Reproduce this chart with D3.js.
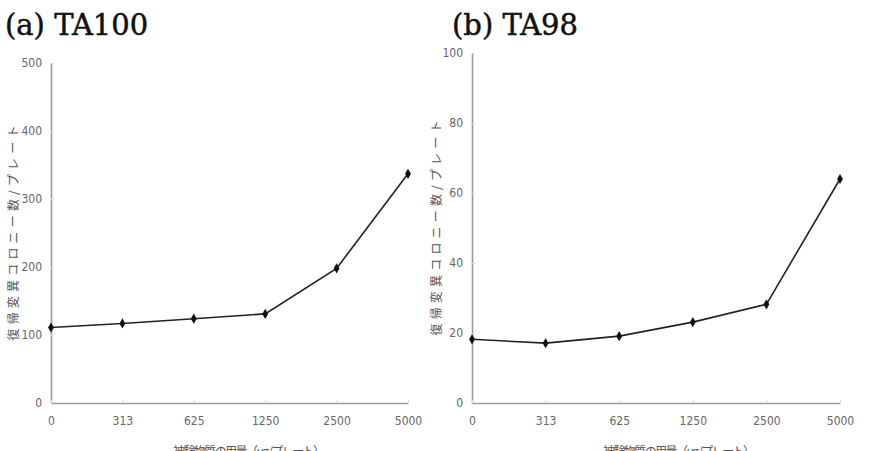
<!DOCTYPE html>
<html lang="ja">
<head>
<meta charset="UTF-8">
<title>TA100 / TA98</title>
<script src="https://cdn.jsdelivr.net/npm/d3@7"></script>
<style>
  body { margin: 0; background: #fff; }
  .tick text { font-family: "Liberation Sans Narrow", "DejaVu Sans Condensed", sans-serif; font-size: 12px; fill: #666; }
  .title { font-family: "DejaVu Serif", "Liberation Serif", serif; font-size: 29px; fill: #111; stroke: #111; stroke-width: 0.5px; }
  .ylab, .xlab { font-family: "Noto Sans CJK JP", sans-serif; font-size: 12px; fill: #555; }
</style>
</head>
<body>
<div id="chart"></div>
<script>
const doses = ["0", "313", "625", "1250", "2500", "5000"];
const ta100 = [111, 117, 124, 131, 198, 337];
const ta98 = [18.2, 17.1, 19.1, 23.1, 28.2, 64];
const ta100Ticks = [0, 100, 200, 300, 400, 500];
const ta98Ticks = [0, 20, 40, 60, 80, 100];

const w = 893, h = 451;
const svg = d3.select("#chart").append("svg")
  .attr("width", w)
  .attr("height", h);

const panels = [
  { title: "(a) TA100", values: ta100, ticks: ta100Ticks, x0: 51, x1: 408, top: 63, titleX: 5, ylabX: 14, ylabY: 233, xlabX: 249 },
  { title: "(b) TA98", values: ta98, ticks: ta98Ticks, x0: 472, x1: 840, top: 53, titleX: 452, ylabX: 437, ylabY: 228, xlabX: 679 }
];
const bottom = 403;

panels.forEach(p => {
  const x = d3.scalePoint().domain(doses).range([p.x0, p.x1]);
  const y = d3.scaleLinear().domain([0, d3.max(p.ticks)]).range([bottom, p.top]);

  const yAxis = svg.append("g")
    .attr("transform", `translate(${p.x0},0)`)
    .call(d3.axisLeft(y).tickValues(p.ticks).tickSizeInner(-3).tickSizeOuter(0).tickPadding(9));

  const xAxis = svg.append("g")
    .attr("transform", `translate(0,${bottom})`)
    .call(d3.axisBottom(x).tickSizeInner(-3).tickSizeOuter(0).tickPadding(13));

  [xAxis, yAxis].forEach(g => {
    g.select(".domain").attr("stroke", "#9a9a9a").attr("stroke-width", 1.6);
    g.selectAll(".tick line").attr("stroke", "#ddd");
  });

  const line = d3.line()
    .x((d, i) => x(doses[i]))
    .y(d => y(d));

  svg.append("path")
    .datum(p.values)
    .attr("fill", "none")
    .attr("stroke", "#222")
    .attr("stroke-width", 1.6)
    .attr("d", line);

  svg.append("g").selectAll("path")
    .data(p.values)
    .join("path")
    .attr("d", d3.symbol(d3.symbolDiamond, 30))
    .attr("transform", (d, i) => `translate(${x(doses[i])},${y(d)})`)
    .attr("fill", "#111");

  svg.append("text")
    .attr("class", "title")
    .attr("x", p.titleX)
    .attr("y", 35)
    .text(p.title);

  svg.append("text")
    .attr("class", "ylab")
    .attr("text-anchor", "middle")
    .attr("transform", `translate(${p.ylabX},${p.ylabY}) rotate(-90)`)
    .attr("dy", "0.35em")
    .attr("textLength", 215)
    .attr("lengthAdjust", "spacing")
    .text("復帰変異コロニー数/プレート");

  svg.append("text")
    .attr("class", "xlab")
    .attr("text-anchor", "middle")
    .attr("x", p.xlabX)
    .attr("y", 456)
    .attr("textLength", 152)
    .attr("lengthAdjust", "spacing")
    .text("被験物質の用量（μg/プレート）");
});
</script>
</body>
</html>
